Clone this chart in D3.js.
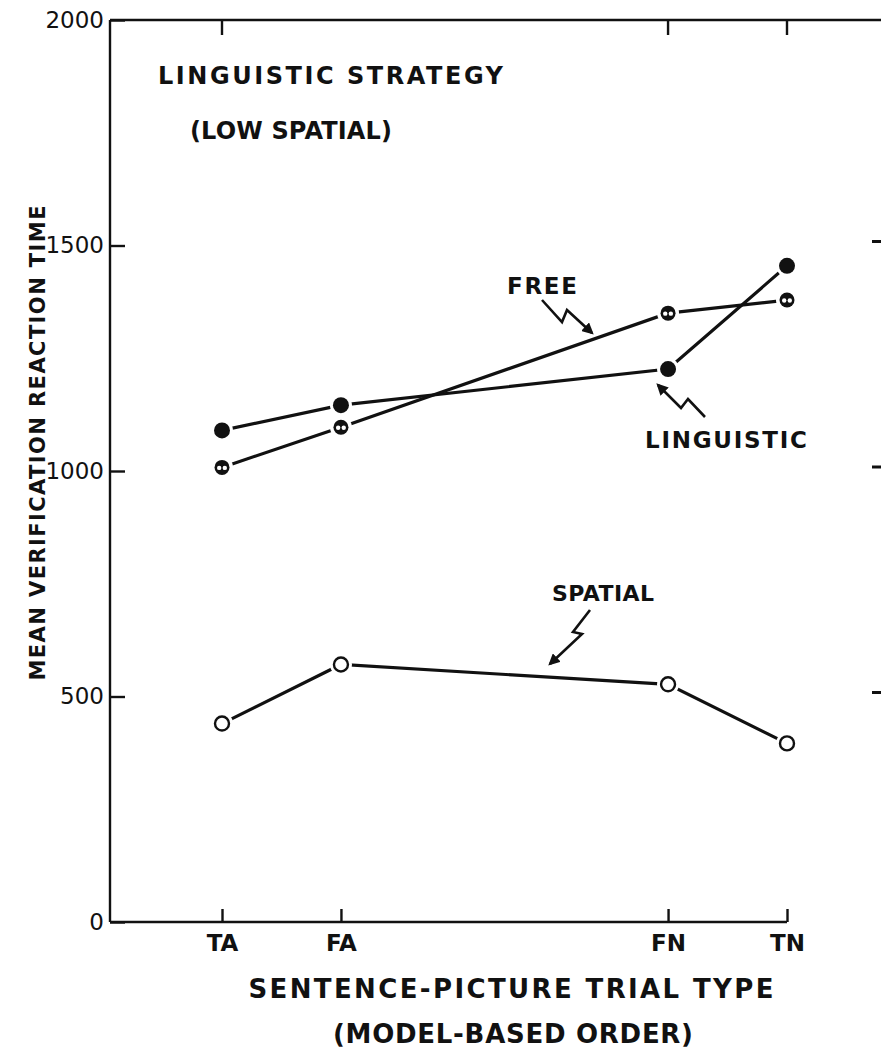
<!DOCTYPE html>
<html>
<head>
<meta charset="utf-8">
<script src="https://cdn.jsdelivr.net/npm/d3@7"></script>
<style>
  html, body { margin: 0; padding: 0; background: #fff; }
  svg { display: block; }
  text { font-family: "DejaVu Sans", sans-serif; fill: #111; }
</style>
</head>
<body>
<svg id="chart" width="881" height="1048"></svg>
<script>
// Trial types in model-based order, with their spacing along the axis
const trialTypes = ["TA", "FA", "FN", "TN"];
const trialPosition = [1, 2, 4.75, 5.75];

// Mean verification reaction time (ms) for each instruction condition
const linguisticRT = [1090, 1146, 1226, 1455];
const freeRT = [1008, 1097, 1350, 1379];
const spatialRT = [440, 571, 527, 396];

const yTicks = [0, 500, 1000, 1500, 2000];
const rightTicks = [500, 1000, 1500];
const topTickTypes = ["TA", "FN", "TN"];

const svg = d3.select("#chart");
const ink = "#111";

const plotLeft = 110, plotRight = 881, plotTop = 20, plotBottom = 922;

const x = d3.scaleLinear().domain([1, 5.75]).range([222, 787]);
const y = d3.scaleLinear().domain([0, 2000]).range([plotBottom, plotTop]);
const posOf = t => trialPosition[trialTypes.indexOf(t)];

// Left axis with inward ticks
const yAxis = d3.axisLeft(y).tickValues(yTicks).tickSize(-15).tickPadding(21).tickFormat(d3.format("d"));
const gy = svg.append("g").attr("transform", `translate(${plotLeft},0)`).call(yAxis);
gy.select(".domain").attr("stroke", ink).attr("stroke-width", 2.4)
  .attr("d", `M0,${plotTop}V${plotBottom}`);
gy.selectAll(".tick line").attr("stroke", ink).attr("stroke-width", 2.4);
gy.selectAll(".tick text").attr("font-size", 23).attr("fill", ink).attr("dx", 15)
  .style("font-family", "DejaVu Sans, sans-serif");

// Top frame line with downward ticks
svg.append("line").attr("x1", plotLeft).attr("x2", plotRight).attr("y1", plotTop).attr("y2", plotTop)
  .attr("stroke", ink).attr("stroke-width", 2.4);
svg.append("g").selectAll("line").data(topTickTypes).join("line")
  .attr("x1", d => x(posOf(d))).attr("x2", d => x(posOf(d)))
  .attr("y1", plotTop).attr("y2", plotTop + 15)
  .attr("stroke", ink).attr("stroke-width", 2.4);

// Short right-hand ticks
svg.append("g").selectAll("line").data(rightTicks).join("line")
  .attr("x1", 872).attr("x2", 881).attr("y1", d => y(d) - 4).attr("y2", d => y(d) - 4)
  .attr("stroke", ink).attr("stroke-width", 3);

// Bottom axis with upward ticks
const xAxis = d3.axisBottom(x).tickValues(trialPosition).tickSize(-13).tickPadding(9)
  .tickFormat((d, i) => trialTypes[i]);
const gx = svg.append("g").attr("transform", `translate(0,${plotBottom})`).call(xAxis);
gx.select(".domain").attr("stroke", ink).attr("stroke-width", 2.4)
  .attr("d", `M${plotLeft},0H${x(5.75)}`);
gx.selectAll(".tick line").attr("stroke", ink).attr("stroke-width", 2.4);
gx.selectAll(".tick text").attr("font-size", 23).attr("font-weight", "bold").attr("fill", ink)
  .attr("dy", "0.85em").style("font-family", "DejaVu Sans, sans-serif");

// Axis titles
svg.append("text").attr("x", 511).attr("y", 998).attr("text-anchor", "middle")
  .attr("font-size", 26).attr("font-weight", "bold")
  .attr("textLength", 525).attr("lengthAdjust", "spacing")
  .text("SENTENCE-PICTURE TRIAL TYPE");
svg.append("text").attr("x", 513).attr("y", 1043).attr("text-anchor", "middle")
  .attr("font-size", 26).attr("font-weight", "bold")
  .attr("textLength", 360).attr("lengthAdjust", "spacing")
  .text("(MODEL-BASED ORDER)");
svg.append("text").attr("transform", "translate(45,443) rotate(-90)").attr("text-anchor", "middle")
  .attr("font-size", 21).attr("font-weight", "bold")
  .attr("textLength", 475).attr("lengthAdjust", "spacing")
  .text("MEAN VERIFICATION REACTION TIME");

// Panel heading
svg.append("text").attr("x", 158).attr("y", 84).attr("font-size", 24).attr("font-weight", "bold")
  .attr("textLength", 345).attr("lengthAdjust", "spacing").text("LINGUISTIC STRATEGY");
svg.append("text").attr("x", 190).attr("y", 139).attr("font-size", 24).attr("font-weight", "bold")
  .attr("textLength", 202).attr("lengthAdjust", "spacing").text("(LOW SPATIAL)");

// Series lines
const line = d3.line().x((d, i) => x(trialPosition[i])).y(d => y(d));
[linguisticRT, freeRT, spatialRT].forEach(vals => {
  svg.append("path").datum(vals).attr("d", line)
    .attr("fill", "none").attr("stroke", ink).attr("stroke-width", 3.2).attr("stroke-linecap", "round");
});

// White halos so lines stop short of the symbols
function halo(vals) {
  svg.append("g").selectAll("circle").data(vals).join("circle")
    .attr("cx", (d, i) => x(trialPosition[i])).attr("cy", d => y(d)).attr("r", 11).attr("fill", "#fff");
}
[linguisticRT, freeRT, spatialRT].forEach(halo);

// Linguistic: filled circles
svg.append("g").selectAll("circle").data(linguisticRT).join("circle")
  .attr("cx", (d, i) => x(trialPosition[i])).attr("cy", d => y(d)).attr("r", 8).attr("fill", ink);

// Free: dark circle with two light dots
const freeG = svg.append("g").selectAll("g").data(freeRT).join("g")
  .attr("transform", (d, i) => `translate(${x(trialPosition[i])},${y(d)})`);
freeG.append("circle").attr("r", 7.5).attr("fill", ink);
freeG.append("circle").attr("cx", -2.8).attr("cy", 0.5).attr("r", 2.2).attr("fill", "#fff");
freeG.append("circle").attr("cx", 2.8).attr("cy", 0.5).attr("r", 2.2).attr("fill", "#fff");

// Spatial: open circles
svg.append("g").selectAll("circle").data(spatialRT).join("circle")
  .attr("cx", (d, i) => x(trialPosition[i])).attr("cy", d => y(d)).attr("r", 7)
  .attr("fill", "#fff").attr("stroke", ink).attr("stroke-width", 2.4);

// Lightning-style pointer arrows
const defs = svg.append("defs");
defs.append("marker").attr("id", "head").attr("viewBox", "0 0 10 10")
  .attr("refX", 8).attr("refY", 5).attr("markerWidth", 4.5).attr("markerHeight", 4.5)
  .attr("orient", "auto").attr("markerUnits", "strokeWidth")
  .append("path").attr("d", "M0,0L10,5L0,10Z").attr("fill", ink);

const pointers = [
  { label: "FREE", lx: 507, ly: 294, len: 70, size: 23, pts: [[542, 300], [562, 322], [567, 310], [592, 333]] },
  { label: "LINGUISTIC", lx: 645, ly: 448, len: 162, size: 23, pts: [[705, 417], [688, 399], [681, 408], [658, 385]] },
  { label: "SPATIAL", lx: 552, ly: 601, len: 102, size: 22, pts: [[590, 610], [573, 632], [582, 634], [550, 664]] }
];
pointers.forEach(p => {
  svg.append("text").attr("x", p.lx).attr("y", p.ly).attr("font-size", p.size).attr("font-weight", "bold")
    .attr("textLength", p.len).attr("lengthAdjust", "spacing").text(p.label);
  svg.append("path").attr("d", d3.line()(p.pts)).attr("fill", "none").attr("stroke", ink)
    .attr("stroke-width", 2.6).attr("stroke-linejoin", "miter").attr("marker-end", "url(#head)");
});
</script>
</body>
</html>
